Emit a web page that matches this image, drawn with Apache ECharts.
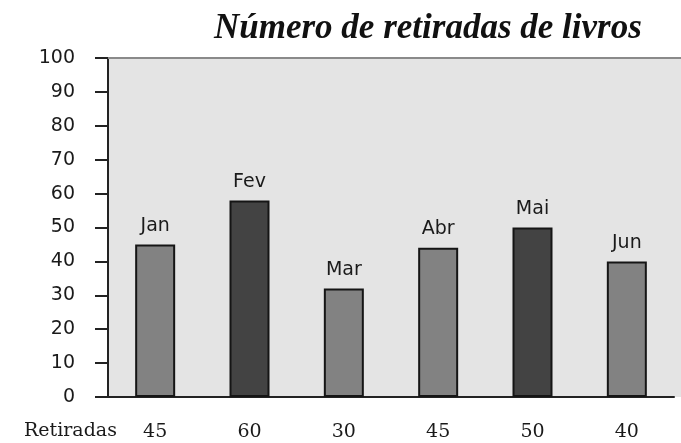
<!DOCTYPE html>
<html>
<head>
<meta charset="utf-8">
<style>
  html, body, #main { margin: 0; width: 681px; height: 443px; background: #fff; }
</style>
<script src="https://cdn.jsdelivr.net/npm/echarts@6/dist/echarts.min.js"></script>
</head>
<body>
<div id="main"></div>
<script>
// data
var months = ['Jan', 'Fev', 'Mar', 'Abr', 'Mai', 'Jun'];
var barValues = [45, 58, 32, 44, 50, 40];      // bar heights as drawn
var retiradas = [45, 60, 30, 45, 50, 40];      // numbers printed in the table row
var darkBars = ['Fev', 'Mai'];
var yTicks = { min: 0, max: 100, interval: 10 };

var chart = echarts.init(document.getElementById('main'));

var bars = months.map(function (m, i) {
  return {
    value: barValues[i],
    itemStyle: { color: darkBars.indexOf(m) >= 0 ? '#434343' : '#828282' }
  };
});

chart.setOption({
  animation: false,
  backgroundColor: '#fff',
  title: {
    text: 'Número de retiradas de livros',
    left: 209,
    top: 6,
    textStyle: {
      fontFamily: 'Liberation Serif',
      fontStyle: 'italic',
      fontWeight: 'bold',
      fontSize: 35,
      color: '#111'
    }
  },
  graphic: [
    // plot background runs out to the right edge
    { type: 'rect', z: -10, shape: { x: 108, y: 58, width: 573, height: 339 }, style: { fill: '#e4e4e4' } },
    { type: 'line', z: 1, shape: { x1: 108, y1: 58, x2: 681, y2: 58 }, style: { stroke: '#8a8a8a', lineWidth: 2 } },
    {
      type: 'text', left: 24, top: 422,
      style: { text: 'Retiradas', font: '19px "DejaVu Serif"', fill: '#1a1a1a' }
    }
  ],
  grid: { left: 108, right: 7, top: 58, bottom: 46 },
  xAxis: {
    type: 'category',
    data: months,
    axisLine: { lineStyle: { color: '#222', width: 2 } },
    axisTick: { show: false },
    axisLabel: {
      margin: 26,
      fontFamily: 'DejaVu Serif',
      fontSize: 19,
      color: '#1a1a1a',
      formatter: function (v, i) { return String(retiradas[i]); }
    }
  },
  yAxis: {
    type: 'value',
    min: yTicks.min,
    max: yTicks.max,
    interval: yTicks.interval,
    splitLine: { show: false },
    axisLine: { show: true, lineStyle: { color: '#222', width: 2 } },
    axisTick: { show: true, length: 13, lineStyle: { color: '#222', width: 2 } },
    axisLabel: {
      margin: 33,
      fontFamily: 'DejaVu Sans',
      fontSize: 19,
      color: '#1a1a1a'
    }
  },
  series: [{
    type: 'bar',
    data: bars,
    barWidth: 40,
    itemStyle: { borderColor: '#151515', borderWidth: 2 },
    label: {
      show: true,
      position: 'top',
      distance: 9,
      formatter: '{b}',
      fontFamily: 'DejaVu Sans',
      fontSize: 19,
      color: '#1a1a1a'
    }
  }]
});
</script>
</body>
</html>
